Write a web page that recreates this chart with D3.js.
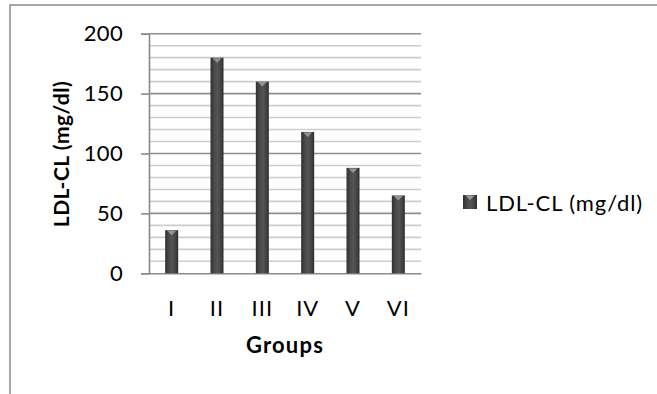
<!DOCTYPE html>
<html>
<head>
<meta charset="utf-8">
<script src="https://cdn.jsdelivr.net/npm/d3@7"></script>
<style>
  html, body { margin: 0; padding: 0; background: #fff; }
  svg { display: block; font-family: Lato, "Open Sans", sans-serif; }
</style>
</head>
<body>
<svg id="chart" width="657" height="394"></svg>
<script>
// LDL cholesterol by treatment group
const groups = ["I", "II", "III", "IV", "V", "VI"];
const ldlValues = [36, 180, 160, 118, 88, 65];
const yTicks = [0, 50, 100, 150, 200];
const seriesName = "LDL-CL (mg/dl)";
const xTitle = "Groups";
const yTitle = "LDL-CL (mg/dl)";

const svg = d3.select("#chart");
const plot = { left: 149, right: 421, top: 33.7, bottom: 273.3 };

const x = d3.scaleBand().domain(groups).range([plot.left, plot.right]).padding(0);
const y = d3.scaleLinear().domain([0, 200]).range([plot.bottom, plot.top]);

// chart-area frame (continues past the page edge)
svg.append("rect")
  .attr("x", 10).attr("y", 5).attr("width", 700).attr("height", 450)
  .attr("fill", "none").attr("stroke", "#8a8a8a").attr("stroke-width", 1.5);

// gradient for the bar body
const defs = svg.append("defs");
const grad = defs.append("linearGradient").attr("id", "barGrad")
  .attr("x1", "0%").attr("x2", "100%").attr("y1", "0%").attr("y2", "0%");
[["0%", "#2f2f2f"], ["30%", "#4a4a4a"], ["55%", "#545454"], ["80%", "#434343"], ["100%", "#2c2c2c"]]
  .forEach(([o, c]) => grad.append("stop").attr("offset", o).attr("stop-color", c));

// minor gridlines every 10
const minor = d3.range(10, 200, 10).filter(v => v % 50 !== 0);
svg.append("g").selectAll("line").data(minor).join("line")
  .attr("x1", plot.left).attr("x2", plot.right)
  .attr("y1", d => y(d)).attr("y2", d => y(d))
  .attr("stroke", "#cdcdcd").attr("stroke-width", 1.6);

// major gridlines + left tick marks
const yAxis = d3.axisLeft(y).tickValues(yTicks).tickSize(8).tickPadding(18);
const gy = svg.append("g").attr("transform", `translate(${plot.left},0)`).call(yAxis);
gy.select(".domain").attr("stroke", "#8a8a8a").attr("stroke-width", 1.6);
gy.selectAll(".tick line").attr("stroke", "#8a8a8a").attr("stroke-width", 1.6);
gy.selectAll(".tick text").attr("font-size", 22).attr("fill", "#000")
  .attr("font-family", "Lato, sans-serif").attr("letter-spacing", 0.3);
svg.append("g").selectAll("line").data(yTicks.filter(v => v > 0)).join("line")
  .attr("x1", plot.left).attr("x2", plot.right)
  .attr("y1", d => y(d)).attr("y2", d => y(d))
  .attr("stroke", "#8e8e8e").attr("stroke-width", 1.6);

// bottom axis (no tick marks)
const xAxis = d3.axisBottom(x).tickSize(0).tickPadding(27);
const gx = svg.append("g").attr("transform", `translate(0,${plot.bottom})`).call(xAxis);
gx.select(".domain").attr("stroke", "#8a8a8a").attr("stroke-width", 1.6);
gx.selectAll(".tick text").attr("font-size", 22).attr("fill", "#000")
  .attr("font-family", "Lato, sans-serif").attr("letter-spacing", 1);

// bars
const barW = 13;
const bars = svg.append("g").selectAll("g").data(groups.map((g, i) => ({ g, v: ldlValues[i] }))).join("g");
bars.append("rect")
  .attr("x", d => x(d.g) + x.bandwidth() / 2 - barW / 2)
  .attr("y", d => y(d.v))
  .attr("width", barW)
  .attr("height", d => y(0) - y(d.v))
  .attr("fill", "url(#barGrad)");
// light facet at the top of each bar
bars.append("path")
  .attr("d", d => {
    const cx = x(d.g) + x.bandwidth() / 2, t = y(d.v);
    return `M${cx - 4.5},${t + 0.5}L${cx + 4.5},${t + 0.5}L${cx},${t + 5}Z`;
  })
  .attr("fill", "#9a9a9a").attr("opacity", 0.9);

// axis titles
svg.append("text")
  .attr("x", (plot.left + plot.right) / 2).attr("y", 353)
  .attr("text-anchor", "middle").attr("font-size", 22).attr("font-weight", "bold")
  .attr("letter-spacing", 1.2)
  .text(xTitle);
svg.append("text")
  .attr("transform", `translate(69,${154}) rotate(-90)`)
  .attr("text-anchor", "middle").attr("font-size", 21).attr("font-weight", "bold")
  .attr("letter-spacing", 0.5)
  .text(yTitle);

// legend
const lg = svg.append("g").attr("transform", "translate(463,195)");
lg.append("rect").attr("width", 14).attr("height", 14).attr("fill", "url(#barGrad)");
lg.append("path").attr("d", "M2.5,0.5L11.5,0.5L7,5Z").attr("fill", "#9a9a9a");
lg.append("text").attr("x", 23).attr("y", 15.5).attr("font-size", 22)
  .attr("letter-spacing", 0.9).text(seriesName);
</script>
</body>
</html>
